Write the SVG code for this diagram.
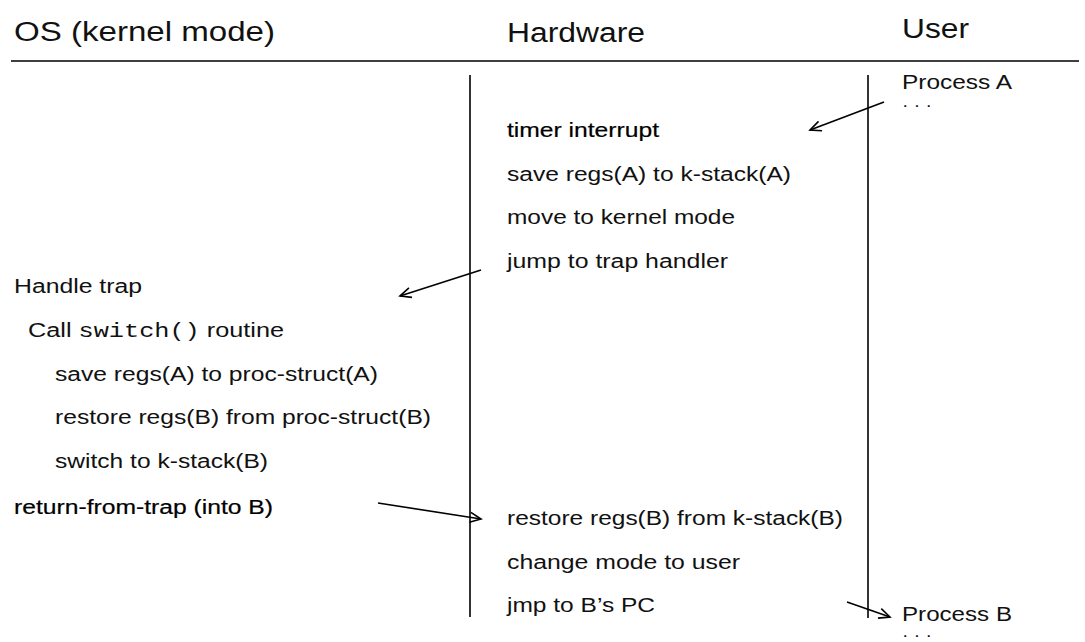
<svg xmlns="http://www.w3.org/2000/svg" width="1085" height="642" viewBox="0 0 1085 642">
<defs>
<style>
text{font-family:"Liberation Sans",Arial,sans-serif;fill:#111;}
.h{font-size:27px;}
.t{font-size:20px;}
.d{font-size:16px;}
.b{font-size:20px;stroke:#000;stroke-width:0.2;fill:#000;}
.m{font-family:"Liberation Mono","Courier New",monospace;}
.ln{stroke:#000;stroke-width:1.6;fill:none;}
.ar{stroke:#000;stroke-width:1.6;fill:none;marker-end:url(#ah);}
</style>
<marker id="ah" markerWidth="14" markerHeight="12" refX="12" refY="6" orient="auto" markerUnits="userSpaceOnUse">
<path d="M1,1 L12,6 L1,11" fill="none" stroke="#000" stroke-width="1.6"/>
</marker>
</defs>
<rect width="1085" height="642" fill="#fff"/>
<g id="headers">
<text class="h" x="14" y="41" textLength="261" lengthAdjust="spacingAndGlyphs">OS (kernel mode)</text>
<text class="h" x="507" y="42" textLength="138" lengthAdjust="spacingAndGlyphs">Hardware</text>
<text class="h" x="902" y="38" textLength="67" lengthAdjust="spacingAndGlyphs">User</text>
<line class="ln" x1="11" y1="61" x2="1079" y2="61"/>
</g>
<g id="lanes">
<line class="ln" x1="470" y1="75" x2="470" y2="617"/>
<line class="ln" x1="868" y1="75" x2="868" y2="618"/>
</g>
<g id="user">
<text class="t" x="902" y="89" textLength="110" lengthAdjust="spacingAndGlyphs">Process A</text>
<text class="d" x="902" y="111" textLength="30" lengthAdjust="spacingAndGlyphs">· · ·</text>
<text class="t" x="902" y="621" textLength="110" lengthAdjust="spacingAndGlyphs">Process B</text>
<text class="d" x="902" y="641" textLength="30" lengthAdjust="spacingAndGlyphs">· · ·</text>
</g>
<g id="hardware">
<text class="b" x="507" y="137" textLength="152" lengthAdjust="spacingAndGlyphs">timer interrupt</text>
<text class="t" x="507" y="181" textLength="284" lengthAdjust="spacingAndGlyphs">save regs(A) to k-stack(A)</text>
<text class="t" x="507" y="224" textLength="228" lengthAdjust="spacingAndGlyphs">move to kernel mode</text>
<text class="t" x="507" y="268" textLength="221" lengthAdjust="spacingAndGlyphs">jump to trap handler</text>
<text class="t" x="507" y="525" textLength="336" lengthAdjust="spacingAndGlyphs">restore regs(B) from k-stack(B)</text>
<text class="t" x="507" y="569" textLength="233" lengthAdjust="spacingAndGlyphs">change mode to user</text>
<text class="t" x="507" y="612" textLength="148" lengthAdjust="spacingAndGlyphs">jmp to B’s PC</text>
</g>
<g id="os">
<text class="t" x="14" y="293" textLength="128" lengthAdjust="spacingAndGlyphs">Handle trap</text>
<text class="t" x="28" y="337" textLength="256" lengthAdjust="spacingAndGlyphs">Call <tspan class="m">switch()</tspan> routine</text>
<text class="t" x="55" y="381" textLength="323" lengthAdjust="spacingAndGlyphs">save regs(A) to proc-struct(A)</text>
<text class="t" x="55" y="424" textLength="376" lengthAdjust="spacingAndGlyphs">restore regs(B) from proc-struct(B)</text>
<text class="t" x="55" y="468" textLength="213" lengthAdjust="spacingAndGlyphs">switch to k-stack(B)</text>
<text class="b" x="14" y="514" textLength="259" lengthAdjust="spacingAndGlyphs">return-from-trap (into B)</text>
</g>
<g id="connectors">
<line class="ar" x1="884" y1="102" x2="810" y2="130"/>
<line class="ar" x1="481" y1="270" x2="400" y2="296"/>
<line class="ar" x1="378" y1="503" x2="481" y2="519"/>
<line class="ar" x1="847" y1="602" x2="890" y2="617"/>
</g>
</svg>
